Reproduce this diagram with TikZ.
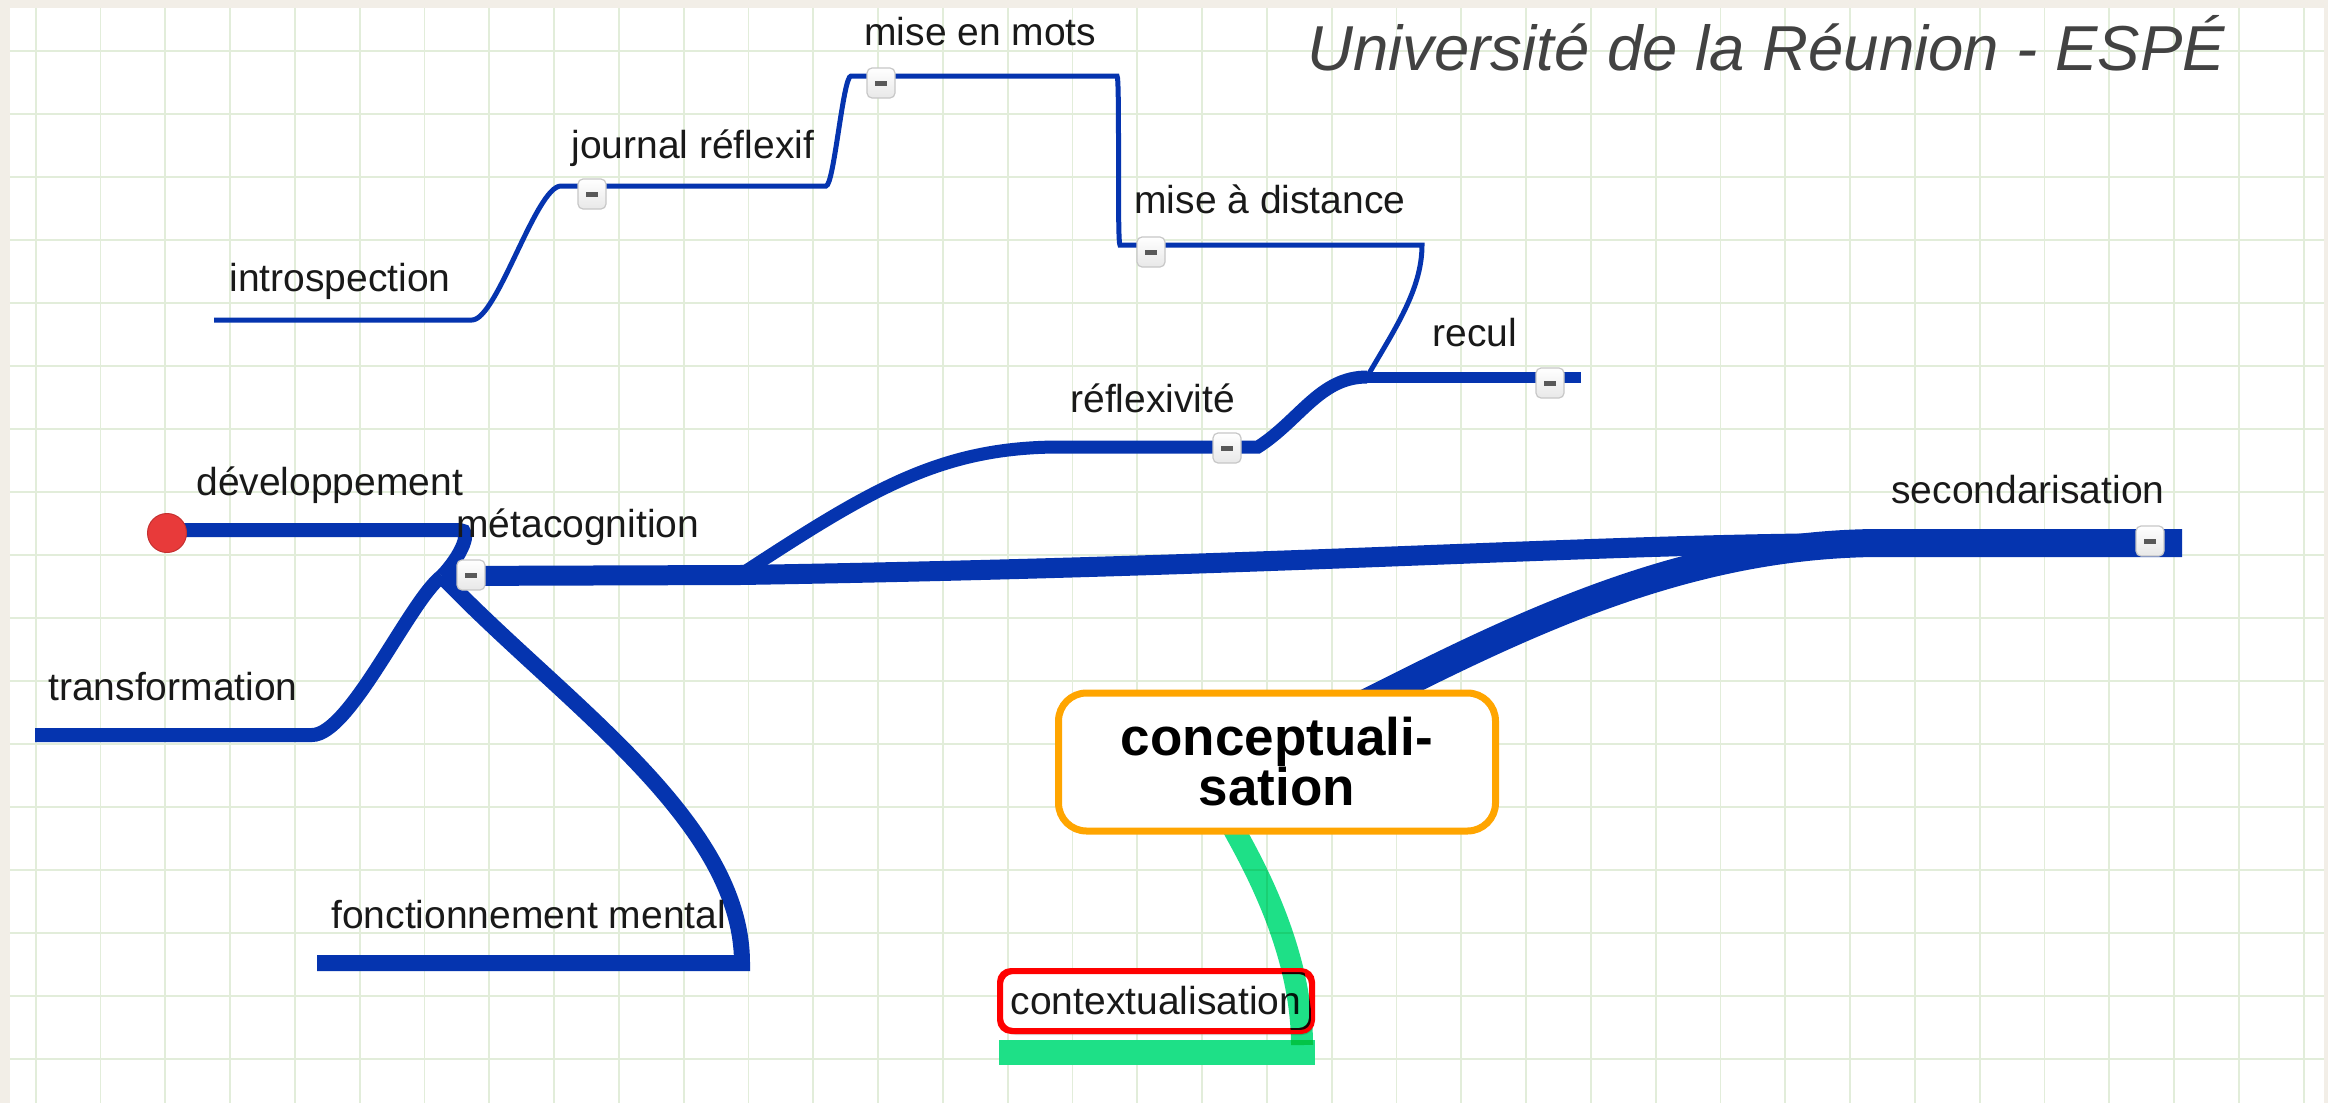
\documentclass[tikz,border=0pt]{standalone}
\usepackage{fontspec}
\setmainfont{Liberation Sans}
\usetikzlibrary{shadows}

\definecolor{mapblue}{RGB}{5,52,175}
\definecolor{mapgreen}{RGB}{30,224,135}
\definecolor{gridline}{RGB}{226,237,218}
\definecolor{paper}{RGB}{242,238,231}
\definecolor{dotred}{RGB}{232,58,58}
\definecolor{titlegrey}{RGB}{66,66,66}
\definecolor{boxorange}{RGB}{255,165,0}

\begin{document}
\begin{tikzpicture}[x=0.5pt,y=-0.5pt,
    topic/.style={anchor=base west,inner sep=0pt,text=black!90,font=\fontsize{19.5}{23}\selectfont},
    branch/.style={draw=mapblue,line width=#1},
    collapse/.style={draw=black!22,line width=0.6pt,rounded corners=2.5pt,top color=white,bottom color=black!9,minimum width=14pt,minimum height=15pt,inner sep=0pt}]

    \useasboundingbox (0,0) rectangle (2328,1103);

    % Paper frame and squared sheet
    \fill[paper] (0,0) rectangle (2328,1103);
    \fill[white] (10,8) rectangle (2324,1103);
    \foreach \i in {0,...,35} {
        \draw[gridline,line width=0.9pt] ({35.7+64.8*\i},8) -- ({35.7+64.8*\i},1103);
    }
    \foreach \j in {0,...,16} {
        \draw[gridline,line width=0.9pt] (10,{50.7+63*\j}) -- (2324,{50.7+63*\j});
    }

    % Title
    \node[anchor=base west,inner sep=0pt,text=titlegrey,font=\fontsize{31.75}{36}\selectfont\itshape] (title) at (1307,70) {Université de la Réunion - ESPÉ};

    % End points of the branch lines
    \coordinate (intro-w) at (214,320);
    \coordinate (intro-e) at (472,320);
    \coordinate (journal-w) at (561,186);
    \coordinate (journal-e) at (826,186);
    \coordinate (mots-w) at (851,76);
    \coordinate (mots-e) at (1117,76);
    \coordinate (dist-w) at (1120,245);
    \coordinate (dist-e) at (1422,245);
    \coordinate (recul-w) at (1367,377);
    \coordinate (recul-e) at (1581,377);
    \coordinate (reflex-w) at (1060,447);
    \coordinate (reflex-e) at (1258,447);
    \coordinate (meta-w) at (442,576);
    \coordinate (meta-fork) at (740,575);
    \coordinate (second-w) at (1875,543);
    \coordinate (second-e) at (2182,543);
    \coordinate (concept-in) at (1364,704);
    \coordinate (concept-top) at (1388,692);
    \coordinate (concept-low) at (1230,822);
    \coordinate (dev-w) at (167,530);
    \coordinate (dev-e) at (460,530);
    \coordinate (trans-w) at (35,735);
    \coordinate (trans-e) at (312,735);
    \coordinate (fonct-w) at (317,963);
    \coordinate (fonct-e) at (742,963);
    \coordinate (ctx-w) at (999,1052);
    \coordinate (ctx-e) at (1315,1052);
    \coordinate (ctx-up) at (1302,1045);

    % Thin chain: introspection up to mise a distance, hooked on recul
    \draw[branch=2.5pt] (intro-w) -- (intro-e) .. controls +(25,0) and +(-25,0) .. (journal-w)
        -- (journal-e) .. controls +(8,0) and +(-8,0) .. (mots-w)
        -- (mots-e) .. controls +(3,0) and +(-3,0) .. (dist-w)
        -- (dist-e) .. controls +(0,45) and +(27,-47) .. (recul-w);

    % recul and reflexivite
    \draw[branch=5.5pt] (recul-w) -- (recul-e);
    \draw[branch=6.5pt] (meta-fork) .. controls (870,490) and (940,447) .. (reflex-w)
        -- (reflex-e) .. controls (1300,420) and (1320,377) .. (recul-w);

    % metacognition and its three children
    \draw[branch=10pt] (meta-w) -- (meta-fork) .. controls (1300,566) and (1600,543) .. (second-w);
    \draw[branch=7pt] (dev-w) -- (dev-e) .. controls (472,530) and (462,555) .. (meta-w);
    \draw[branch=7pt] (trans-w) -- (trans-e) .. controls (350,735) and (410,600) .. (meta-w);
    \draw[branch=8pt] (fonct-w) -- (fonct-e) .. controls (742,820) and (560,700) .. (meta-w);

    % secondarisation, out of the central box
    \draw[branch=14pt] (concept-in) -- (concept-top) .. controls (1550,610) and (1700,545) .. (second-w) -- (second-e);

    % contextualisation
    \draw[mapgreen,line width=12.5pt] (ctx-w) -- (ctx-e);
    \node[draw=red,line width=2pt,rounded corners=6pt,fill=white,minimum width=155pt,minimum height=29pt,inner sep=0pt,
          font=\fontsize{19.5}{23}\selectfont,text=black!90,
          drop shadow={opacity=0.3,shadow xshift=1.5pt,shadow yshift=-2.5pt}] (ctx) at (1156,1001) {contextualisation};
    \begin{scope}[blend mode=multiply]
        \draw[mapgreen,line width=11pt] (ctx-up) .. controls (1302,960) and (1262,880) .. (1237,835) -- (concept-low);
    \end{scope}
    \draw[red,line width=2pt,rounded corners=6pt] (ctx.south west) rectangle (ctx.north east);

    % Central box
    \node[draw=boxorange,line width=3.5pt,rounded corners=14pt,fill=white,minimum width=218.5pt,minimum height=69pt,
          align=center,font=\fontsize{26.5}{25}\selectfont\bfseries] (concept) at (1277,762) {conceptuali-\\sation};

    % Red start dot
    \node[circle,fill=dotred,draw=dotred!85!black,line width=0.5pt,minimum size=19.5pt,inner sep=0pt] (dot) at (167,533) {};

    % Labels
    \node[topic] (introspection) at (229,291) {introspection};
    \node[topic] (journal) at (571,158) {journal réflexif};
    \node[topic] (mots) at (864,45) {mise en mots};
    \node[topic] (distance) at (1134,213) {mise à distance};
    \node[topic] (recul) at (1432,346) {recul};
    \node[topic] (reflex) at (1070,412) {réflexivité};
    \node[topic] (second) at (1891,503) {secondarisation};
    \node[topic] (dev) at (196,495) {développement};
    \node[topic] (meta) at (456,537) {métacognition};
    \node[topic] (trans) at (48,700) {transformation};
    \node[topic] (fonct) at (331,928) {fonctionnement mental};

    % Collapse buttons
    \foreach \n/\x/\y in {journal/592/194, mots/881/83, distance/1151/252, reflex/1227/448,
                          recul/1550/383, meta/471/575, second/2150/541} {
        \node[collapse] (btn-\n) at (\x,\y) {\textcolor{black!65}{\rule{6pt}{2.5pt}}};
    }
\end{tikzpicture}
\end{document}
